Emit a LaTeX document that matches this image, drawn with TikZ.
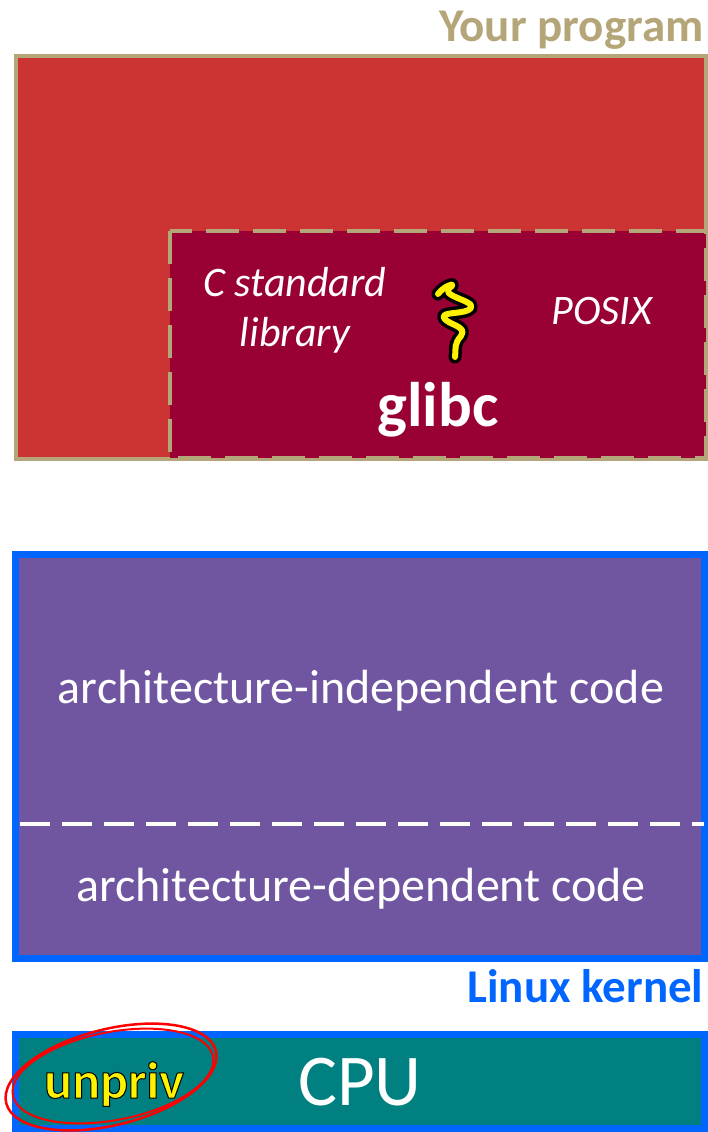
\documentclass[tikz,border=0pt]{standalone}
\usepackage{fontspec}
\setmainfont{Carlito}
\usetikzlibrary{positioning}
\definecolor{progtan}{RGB}{181,166,122}
\definecolor{progred}{RGB}{204,51,51}
\definecolor{libred}{RGB}{153,0,51}
\definecolor{kernblue}{RGB}{0,102,255}
\definecolor{kernpurple}{RGB}{112,85,160}
\definecolor{cputeal}{RGB}{0,128,128}
\newcommand{\outlined}[1]{\special{pdf:literal direct 0 0 0 RG 1 w 2 Tr}#1\special{pdf:literal direct 0 Tr}}
\begin{document}
\begin{tikzpicture}[x=1pt,y=-1pt]
        \useasboundingbox (0,0) rectangle (708,1132);
        % user space
        \filldraw[fill=progred, draw=progtan, line width=4pt] (16,56) rectangle (706,459);
        \filldraw[fill=libred, draw=progtan, line width=4pt, dash pattern=on 33pt off 14pt] (170,231) rectangle (706,458);
        \node[anchor=base east, text=progtan, font=\fontsize{47}{52}\selectfont\bfseries] (prog) at (707,42) {Your program};
        \node[align=center, text=white, font=\fontsize{42}{50}\selectfont\itshape] (stdlib) at (295,310) {C standard\\library};
        \node[text=white, font=\fontsize{42}{46}\selectfont\itshape] (posix) at (602,311) {POSIX};
        \node[text=white, font=\fontsize{63}{66}\selectfont\bfseries] (glibc) at (438,410) {glibc};
        \foreach \c/\w in {black/13pt, yellow/6pt} {
            \draw[\c, line width=\w, line cap=round, line join=round] (438,294) .. controls (445,285) and (455,283) .. (452,286)
                .. controls (435,296) and (476,300) .. (471,308)
                .. controls (466,315) and (440,311) .. (444,318)
                .. controls (448,325) and (468,326) .. (461,336)
                .. controls (454,344) and (456,347) .. (455,357);
        }
        % kernel
        \filldraw[fill=kernpurple, draw=kernblue, line width=7pt] (15.5,554.5) rectangle (704.5,958.5);
        \draw[white, line width=4pt, dash pattern=on 30pt off 12pt] (20,824) -- (704,824);
        \node[text=white, font=\fontsize{48}{52}\selectfont] (indep) at (361,691) {architecture-independent code};
        \node[text=white, font=\fontsize{48}{52}\selectfont] (dep) at (361,889) {architecture-dependent code};
        \node[anchor=base east, text=kernblue, font=\fontsize{47}{52}\selectfont\bfseries] (kern) at (707,1002) {Linux kernel};
        % hardware
        \filldraw[fill=cputeal, draw=kernblue, line width=7pt] (15.5,1034.5) rectangle (704.5,1128.5);
        \node[text=white, font=\fontsize{73}{76}\selectfont] (cpu) at (360,1082) {CPU};
        \node[text=yellow, font=\fontsize{52}{56}\selectfont\bfseries] (unpriv) at (114,1084) {\outlined{unpriv}};
        \draw[red, line width=2.5pt, rotate around={14:(111,1077)}] (111,1077) ellipse (108pt and 48pt);
        \draw[red, line width=2pt, rotate around={11:(113,1076)}] (113,1076) ellipse (102pt and 44pt);
    \end{tikzpicture}
\end{document}
